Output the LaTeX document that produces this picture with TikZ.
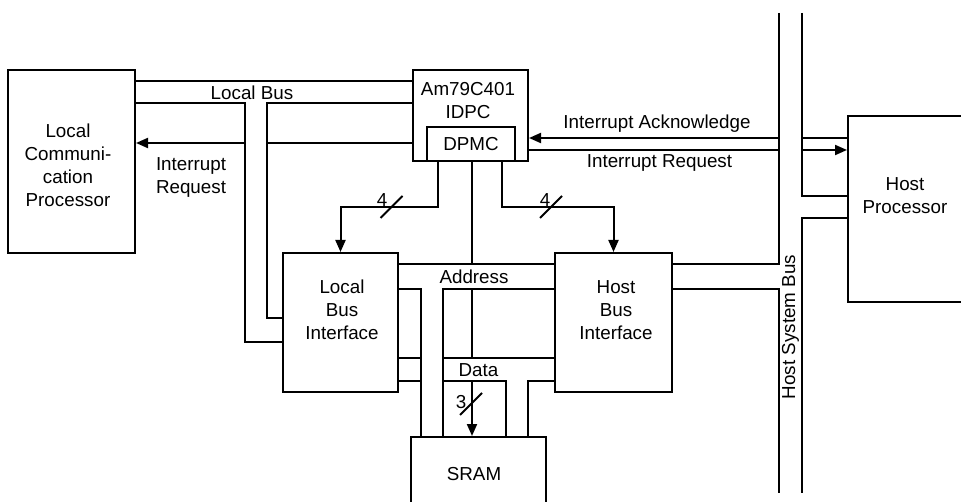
\documentclass[tikz,border=0pt]{standalone}
\usepackage{fontspec}
\setmainfont{Liberation Sans}
\usetikzlibrary{arrows.meta,calc}
\begin{document}
\begin{tikzpicture}[x=1pt,y=-1pt,
  line width=2pt,
  box/.style={draw, line width=2pt, inner sep=0pt, font=\fontsize{18.8}{23}\selectfont},
  txt/.style={font=\fontsize{18.8}{23}\selectfont, align=center, inner sep=0pt},
  arr/.style={-{Triangle[length=12pt,width=10pt]}},
  slash/.style={line width=2pt}]
\useasboundingbox (0,0) rectangle (961,502);
\clip (0,0) rectangle (961,502);

% boxes
\node[box, minimum width=127pt, minimum height=183pt] (lcp) at (71.5,161.5) {};
\node[txt] (lcpt) at (68,165.5) {Local\\Communi-\\cation\\Processor};
\node[box, minimum width=115pt, minimum height=91pt] (idpc) at (470.5,115.5) {};
\node[txt] (idpct) at (468,100.5) {Am79C401\\IDPC};
\node[box, minimum width=88pt, minimum height=34pt] (dpmc) at (471,144) {DPMC};
\node[box, minimum width=115pt, minimum height=139pt] (lbi) at (340.5,322.5) {};
\node[txt] (lbit) at (342,310) {Local\\Bus\\Interface};
\node[box, minimum width=117pt, minimum height=139pt] (hbi) at (613.5,322.5) {};
\node[txt] (hbit) at (616,310) {Host\\Bus\\Interface};
\node[box, minimum width=135pt, minimum height=75pt] (sram) at (478.5,474.5) {};
\node[txt] (sramt) at (474,474) {SRAM};
\node[box, minimum width=124pt, minimum height=186pt] (hp) at (910,209) {};
\node[txt] (hpt) at (905,196) {Host\\Processor};

% helper levels
\coordinate (yLB1) at (0,81);
\coordinate (yLB2) at (0,103);
\coordinate (yIR) at (0,143);
\coordinate (yIA) at (0,138);
\coordinate (yIRh) at (0,150);
\coordinate (yHB1) at (0,196);
\coordinate (yHB2) at (0,218);
\coordinate (yC) at (0,207);
\coordinate (yA1) at (0,264);
\coordinate (yA2) at (0,289);
\coordinate (yD1) at (0,358);
\coordinate (yD2) at (0,381);
\coordinate (yL1) at (0,318);
\coordinate (yL2) at (0,342);
\coordinate (xB1) at (245,0);
\coordinate (xB2) at (267,0);
\coordinate (xH1) at (779,0);
\coordinate (xH2) at (802,0);
\coordinate (xA1) at (421,0);
\coordinate (xA2) at (443,0);
\coordinate (xD1) at (506,0);
\coordinate (xD2) at (528,0);
\coordinate (xL) at (438,0);
\coordinate (xM) at (472,0);
\coordinate (xR) at (502,0);
\coordinate (hsb1t) at (779,13);
\coordinate (hsb1b) at (779,493);
\coordinate (hsb2t) at (802,13);
\coordinate (hsb2b) at (802,493);

% local bus
\draw (lcp.east |- yLB1) -- (idpc.west |- yLB1);
\draw (lcp.east |- yLB2) -- (xB1 |- yLB2) -- (xB1 |- yL2) -- (lbi.west |- yL2);
\draw (idpc.west |- yLB2) -- (xB2 |- yLB2) -- (xB2 |- yL1) -- (lbi.west |- yL1);
\node[txt] (lbus) at (252,93) {Local Bus};

% interrupt request to local processor
\draw (idpc.west |- yIR) -- (xB2 |- yIR);
\draw[arr] (xB1 |- yIR) -- (lcp.east |- yIR);
\node[txt, anchor=west, align=left] (irl) at (155,177.5) {Interrupt\\Request};

% host system bus
\draw (hsb1t) -- (xH1 |- yA1) -- (hbi.east |- yA1);
\draw (hbi.east |- yA2) -- (xH1 |- yA2) -- (hsb1b);
\draw (hsb2t) -- (xH2 |- yHB1) -- (hp.west |- yHB1);
\draw (hp.west |- yHB2) -- (xH2 |- yHB2) -- (hsb2b);
\node[txt, rotate=90] (hsbl) at (790.5,327) {Host System Bus};

% interrupts to host
\draw[arr] (xH1 |- yIA) -- (idpc.east |- yIA);
\draw (xH2 |- yIA) -- (hp.west |- yIA);
\draw (idpc.east |- yIRh) -- (xH1 |- yIRh);
\draw[arr] (xH2 |- yIRh) -- (hp.west |- yIRh);
\node[txt] (ial) at (657,124) {Interrupt Acknowledge};
\node[txt] (irh) at (659.5,163) {Interrupt Request};

% DPMC control lines
\draw[arr] (xL |- idpc.south) -- (xL |- yC) -- (lbi.north |- yC) -- (lbi.north);
\draw[arr] (xR |- idpc.south) -- (xR |- yC) -- (hbi.north |- yC) -- (hbi.north);
\draw (xM |- idpc.south) -- (xM |- yA1);
\draw (xM |- yA2) -- (xM |- yD1);
\draw[arr] (xM |- yD2) -- (xM |- sram.north);

% slashes
\coordinate (s4L) at (391.5,207);
\coordinate (s4R) at (551,207);
\coordinate (s3) at (471,404);
\draw[slash] ([shift={(-11,11)}]s4L) -- ([shift={(11,-11)}]s4L);
\draw[slash] ([shift={(-11,11)}]s4R) -- ([shift={(11,-11)}]s4R);
\draw[slash] ([shift={(-11,11)}]s3) -- ([shift={(11,-11)}]s3);
\node[txt] (n4L) at (382,200) {4};
\node[txt] (n4R) at (545,200) {4};
\node[txt] (n3) at (461,402) {3};

% address bus
\draw (lbi.east |- yA1) -- (hbi.west |- yA1);
\draw (lbi.east |- yA2) -- (xA1 |- yA2) -- (xA1 |- sram.north);
\draw (hbi.west |- yA2) -- (xA2 |- yA2) -- (xA2 |- sram.north);
\node[txt] (addr) at (474,276.5) {Address};

% data bus
\draw (lbi.east |- yD1) -- (xA1 |- yD1);
\draw (lbi.east |- yD2) -- (xA1 |- yD2);
\draw (xA2 |- yD1) -- (hbi.west |- yD1);
\draw (xA2 |- yD2) -- (xD1 |- yD2) -- (xD1 |- sram.north);
\draw (hbi.west |- yD2) -- (xD2 |- yD2) -- (xD2 |- sram.north);
\node[txt] (data) at (478.5,370.5) {Data};
\end{tikzpicture}
\end{document}
